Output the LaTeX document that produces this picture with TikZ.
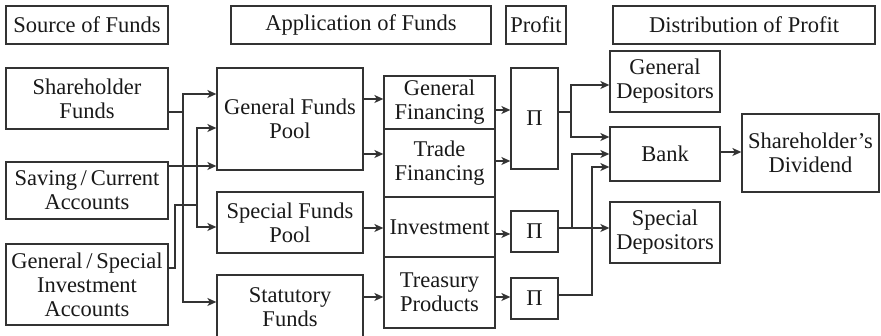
\documentclass[tikz,border=0pt]{standalone}
\usepackage{fontspec}
\setmainfont{Liberation Serif}
\usetikzlibrary{arrows.meta}
\tikzset{
  box/.style={draw=black!80, line width=1.3pt, rectangle, inner sep=0pt, align=center,
    text=black!90, font=\fontsize{22.5}{24}\selectfont},
  conn/.style={draw=black!80, line width=1.3pt},
  arr/.style={conn, -{Stealth[length=9pt,width=8pt,inset=2.5pt]}},
}
\newcommand{\bx}[6]{\node[box, minimum width=#4pt, minimum height=#5pt] (#1) at (#2,#3) {#6};}
\begin{document}
\begin{tikzpicture}[x=1pt,y=-1pt]
\useasboundingbox (0,0) rectangle (881,336);
\clip (0,0) rectangle (881,336);
% headers
\bx{hsrc}{87}{25}{162}{38}{Source of Funds}
\bx{happ}{361}{25}{260}{38}{Application of Funds}
\bx{hprof}{536}{25}{60}{38}{Profit}
\bx{hdist}{744}{25}{262}{38}{Distribution of Profit}
% sources
\bx{sh}{87}{98.5}{162}{61}{Shareholder\\Funds}
\bx{sc}{87}{190.5}{162}{57}{Saving\,/\,Current\\Accounts}
\bx{gs}{87}{284.5}{162}{81}{General\,/\,Special\\Investment\\Accounts}
% pools
\bx{gfp}{290}{119}{146}{102}{General Funds\\Pool}
\bx{sfp}{290}{222.5}{146}{61}{Special Funds\\Pool}
\bx{stat}{290}{307}{146}{64}{Statutory\\Funds}
% applications
\bx{gf}{439.5}{102.5}{111}{53}{General\\Financing}
\bx{tf}{439.5}{163}{111}{68}{Trade\\Financing}
\bx{inv}{439.5}{227}{111}{60}{Investment}
\bx{tp}{439.5}{292.5}{111}{71}{Treasury\\Products}
% profit
\bx{p1}{534.5}{118.5}{47}{101}{Π}
\bx{p2}{534.5}{231.5}{47}{41}{Π}
\bx{p3}{534.5}{298.5}{47}{41}{Π}
% distribution
\bx{gd}{665}{81.5}{110}{61}{General\\Depositors}
\bx{bank}{665}{154}{110}{54}{Bank}
\bx{spd}{665}{232.5}{110}{61}{Special\\Depositors}
\bx{div}{810.5}{153}{137}{78}{Shareholder’s\\Dividend}
% coordinates
\coordinate (a1) at (183,94);
\coordinate (a2) at (183,302);
\coordinate (b1) at (197,128);
\coordinate (b2) at (197,227);
% source connectors
\draw[conn] (sh.east |- 0,112) -- (183,112);
\draw[arr] (a2) -- (a1) -- (gfp.west |- a1);
\draw[arr] (a1) -- (a2) -- (stat.west |- a2);
\draw[arr] (sc.east |- 0,166) -- (gfp.west |- 0,166);
\draw[conn] (gs.east |- 0,268) -- (175,268) -- (175,205) -- (197,205);
\draw[arr] (b2) -- (b1) -- (gfp.west |- b1);
\draw[arr] (b1) -- (b2) -- (sfp.west |- b2);
% pools to applications
\draw[arr] (gfp.east |- 0,99) -- (gf.west |- 0,99);
\draw[arr] (gfp.east |- 0,154) -- (tf.west |- 0,154);
\draw[arr] (sfp.east |- 0,228) -- (inv.west |- 0,228);
\draw[arr] (stat.east |- 0,297) -- (tp.west |- 0,297);
% applications to profit
\draw[arr] (gf.east |- 0,110) -- (p1.west |- 0,110);
\draw[arr] (tf.east |- 0,161) -- (p1.west |- 0,161);
\draw[arr] (inv.east |- 0,234) -- (p2.west |- 0,234);
\draw[arr] (tp.east |- 0,297) -- (p3.west |- 0,297);
% profit to distribution
\coordinate (c1) at (571,85);
\coordinate (c2) at (571,137);
\draw[conn] (p1.east |- 0,112) -- (571,112);
\draw[arr] (c2) -- (c1) -- (gd.west |- c1);
\draw[arr] (c1) -- (c2) -- (bank.west |- c2);
\draw[arr] (p2.east |- 0,228) -- (spd.west |- 0,228);
\draw[arr] (572,228) -- (572,154) -- (bank.west |- 0,154);
\draw[arr] (p3.east |- 0,295) -- (592,295) -- (592,167) -- (bank.west |- 0,167);
\draw[arr] (bank.east |- 0,152) -- (div.west |- 0,152);
\end{tikzpicture}
\end{document}
